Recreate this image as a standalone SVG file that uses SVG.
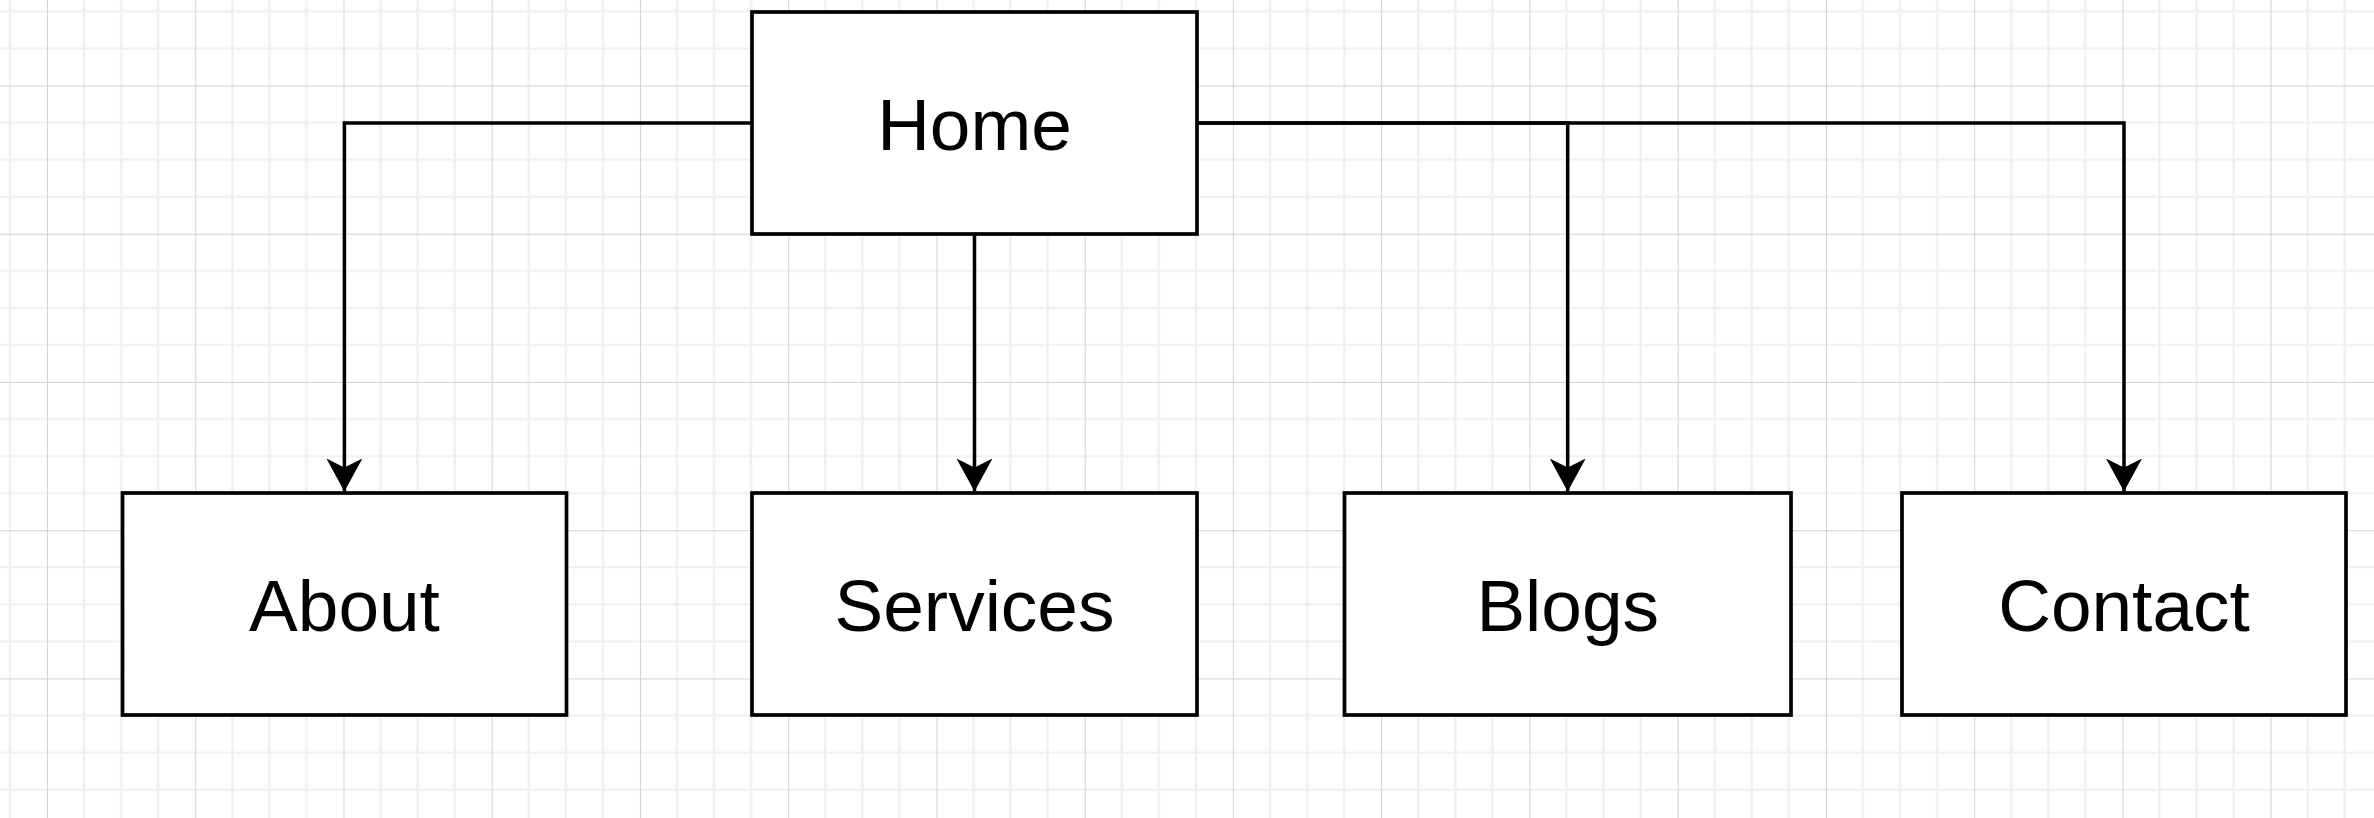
<svg xmlns="http://www.w3.org/2000/svg" width="2374" height="818" viewBox="0 0 2374 818">
  <style>
    .node rect { fill: #ffffff; stroke: #000000; stroke-width: 3.7; }
    .node text { font-family: "Liberation Sans", Arial, Helvetica, sans-serif; font-size: 73px; fill: #000000; text-anchor: middle; }
    .edge { fill: none; stroke: #000000; stroke-width: 3.5; marker-end: url(#arrow); }
  </style>
  <defs>
    <pattern id="grid" patternUnits="userSpaceOnUse" x="47" y="85.5" width="148.24" height="148.24">
      <g stroke="#efefef" stroke-width="2.2" fill="none">
        <path d="M37.06,0 V148.24 M74.12,0 V148.24 M111.18,0 V148.24"/>
        <path d="M0,37.06 H148.24 M0,74.12 H148.24 M0,111.18 H148.24"/>
      </g>
      <g stroke="#d2d2d2" stroke-width="2" fill="none">
        <path d="M0,0 V148.24 M0,0 H148.24"/>
      </g>
    </pattern>
    <marker id="arrow" markerUnits="userSpaceOnUse" markerWidth="34" markerHeight="36" viewBox="0 0 34 36" refX="33" refY="18" orient="auto">
      <path d="M0,0 L33,18 L0,36 L9,18 Z" fill="#000000"/>
    </marker>
  </defs>
  <rect x="0" y="0" width="2374" height="818" fill="#ffffff"/>
  <rect x="0" y="0" width="2374" height="818" fill="url(#grid)"/>

  <g id="connectors">
    <path class="edge" d="M752,123 H344.4 V491.5"/>
    <path class="edge" d="M974.5,234 V491.5"/>
    <path class="edge" d="M1197,123 H1567.7 V491.5"/>
    <path class="edge" d="M1197,123 H2124 V491.5"/>
  </g>

  <g id="node-home" class="node">
    <rect x="752" y="12" width="445" height="222"/>
    <text x="974.5" y="150">Home</text>
  </g>
  <g id="node-about" class="node">
    <rect x="122.5" y="493" width="444" height="222"/>
    <text x="344.5" y="631">About</text>
  </g>
  <g id="node-services" class="node">
    <rect x="752" y="493" width="445" height="222"/>
    <text x="974.5" y="631">Services</text>
  </g>
  <g id="node-blogs" class="node">
    <rect x="1344.5" y="493" width="446.5" height="222"/>
    <text x="1567.7" y="631">Blogs</text>
  </g>
  <g id="node-contact" class="node">
    <rect x="1902" y="493" width="444" height="222"/>
    <text x="2124" y="631">Contact</text>
  </g>
</svg>
